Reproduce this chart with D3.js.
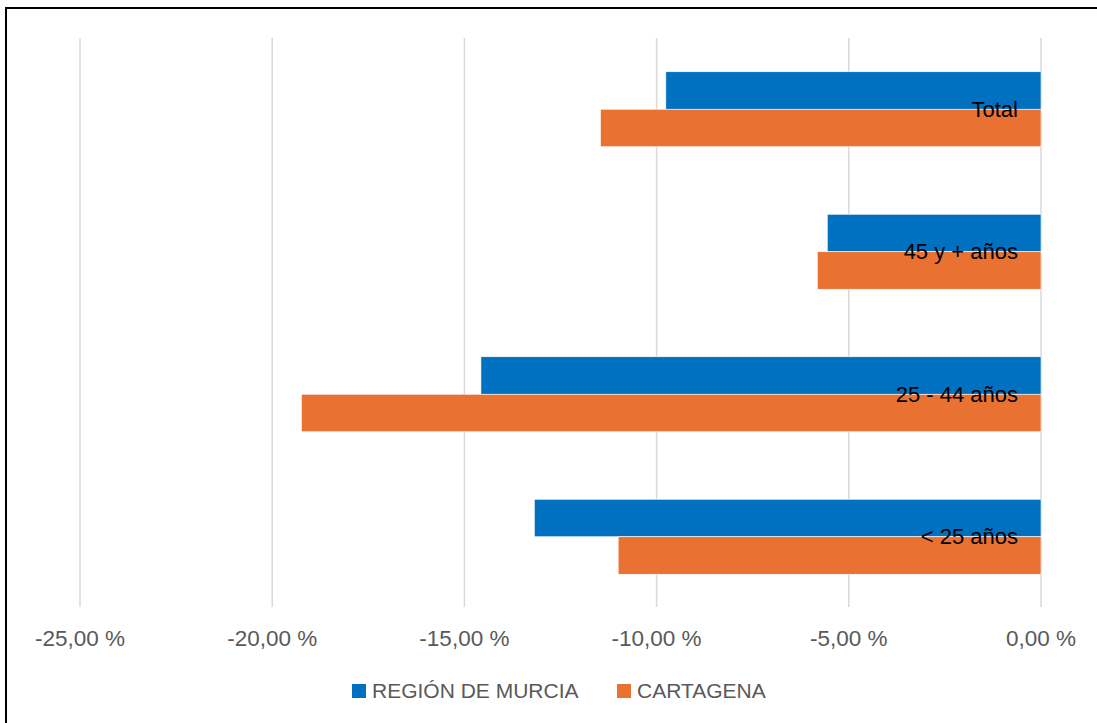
<!DOCTYPE html>
<html>
<head>
<meta charset="utf-8">
<script src="https://cdn.jsdelivr.net/npm/d3@7"></script>
<style>
  body { margin: 0; background: #fff; }
  svg { display: block; font-family: "Liberation Sans", Arial, sans-serif; }
</style>
</head>
<body>
<svg id="chart" width="1097" height="723"></svg>
<script>
// data
const categories = ["Total", "45 y + años", "25 - 44 años", "< 25 años"];
const seriesNames = ["REGIÓN DE MURCIA", "CARTAGENA"];
const murcia = [-9.76, -5.56, -14.57, -13.18];
const cartagena = [-11.46, -5.82, -19.24, -11.00];
const ticks = [-25, -20, -15, -10, -5, 0];
const colors = ["#0070C0", "#E97132"];

const svg = d3.select("#chart");

// frame
svg.append("rect")
  .attr("x", 6).attr("y", 8)
  .attr("width", 1200).attr("height", 800)
  .attr("fill", "none")
  .attr("stroke", "#000")
  .attr("stroke-width", 2);

const x = d3.scaleLinear().domain([-25, 0]).range([80, 1041]);
const y = d3.scaleBand().domain(categories).range([38, 608])
  .paddingInner(0.474).paddingOuter(0.237);
const sub = d3.scaleBand().domain(seriesNames).range([0, y.bandwidth()]);

// gridlines
svg.append("g").selectAll("line")
  .data(ticks)
  .enter().append("line")
    .attr("x1", d => x(d)).attr("x2", d => x(d))
    .attr("y1", 38).attr("y2", 607)
    .attr("stroke", "#d9d9d9")
    .attr("stroke-width", 1.5);

// bars
const rows = categories.map((c, i) => ({cat: c, vals: [murcia[i], cartagena[i]]}));
const grp = svg.append("g").selectAll("g")
  .data(rows)
  .enter().append("g")
    .attr("transform", d => `translate(0,${y(d.cat)})`);

grp.selectAll("rect")
  .data(d => d.vals.map((v, j) => ({name: seriesNames[j], v: v, j: j})))
  .enter().append("rect")
    .attr("x", d => x(d.v))
    .attr("width", d => x(0) - x(d.v))
    .attr("y", d => sub(d.name))
    .attr("height", sub.bandwidth())
    .attr("fill", d => colors[d.j])
    .attr("stroke", "#fff")
    .attr("stroke-width", 0.6);

// category labels
svg.append("g").selectAll("text")
  .data(categories)
  .enter().append("text")
    .attr("x", 1018)
    .attr("y", d => y(d) + y.bandwidth() / 2)
    .attr("dy", "0.35em")
    .attr("text-anchor", "end")
    .style("font-size", "22px")
    .attr("fill", "#000")
    .text(d => d);

// x axis labels
const fmt = d => d3.format(".2f")(d).replace(".", ",").replace("−", "-") + " %";
svg.append("g").selectAll("text")
  .data(ticks)
  .enter().append("text")
    .attr("x", d => x(d))
    .attr("y", 638)
    .attr("dy", "0.35em")
    .attr("text-anchor", "middle")
    .style("font-size", "22.5px")
    .attr("fill", "#595959")
    .text(d => fmt(d));

// legend
const legendX = [352, 617];
const lg = svg.append("g").selectAll("g")
  .data(seriesNames)
  .enter().append("g")
    .attr("transform", (d, i) => `translate(${legendX[i]},684)`);
lg.append("rect")
  .attr("width", 14).attr("height", 14)
  .attr("fill", (d, i) => colors[i]);
lg.append("text")
  .attr("x", 20).attr("y", 7)
  .attr("dy", "0.35em")
  .style("font-size", "21px")
  .attr("fill", "#595959")
  .text(d => d);
</script>
</body>
</html>
